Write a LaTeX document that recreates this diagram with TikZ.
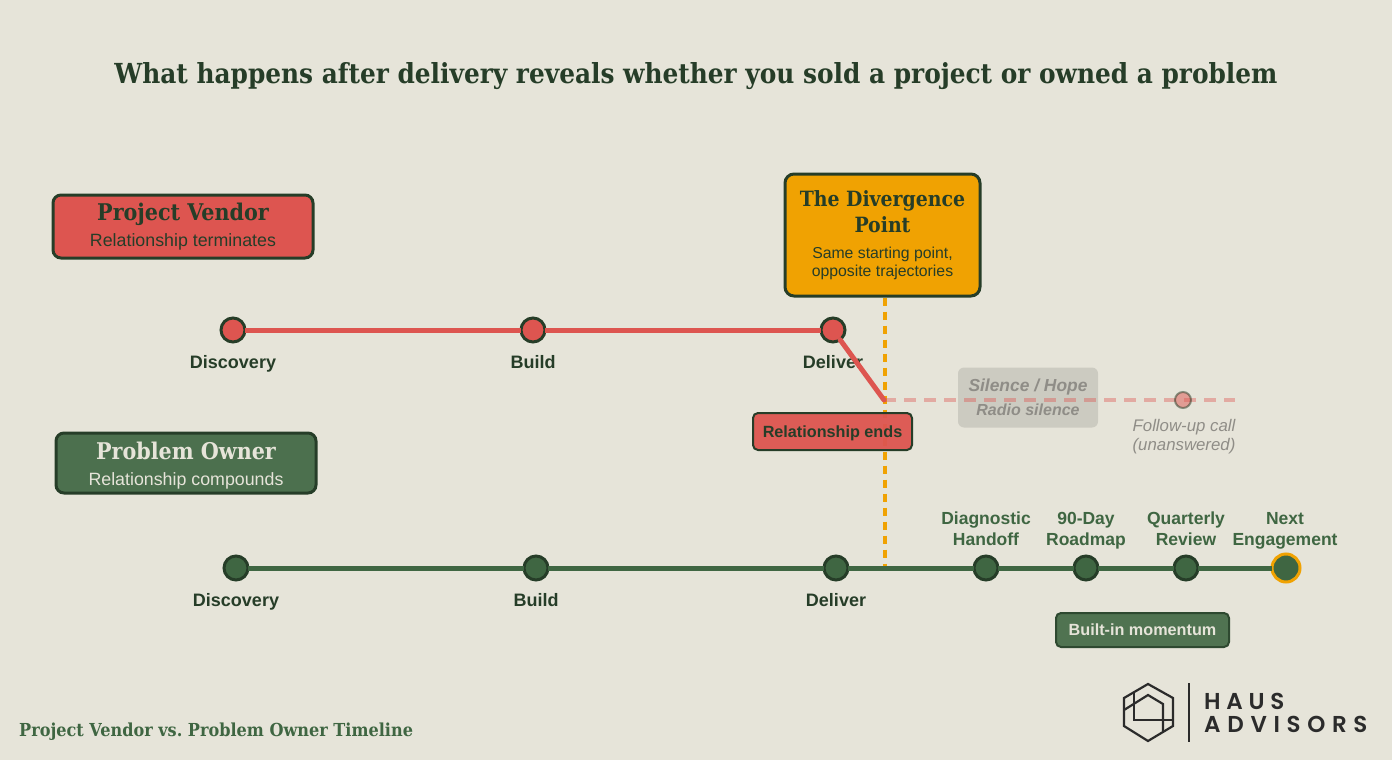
\documentclass[tikz,border=0pt]{standalone}
\usepackage{fontspec}
\setmainfont{Liberation Sans}
\newfontfamily\headfont{DejaVu Serif Condensed}
\newfontfamily\logofont{Poppins}[UprightFont=* SemiBold]
\frenchspacing
\definecolor{paper}{HTML}{E6E4D9}
\definecolor{ink}{HTML}{263D28}
\definecolor{vendorred}{HTML}{DD5550}
\definecolor{ownergreen}{HTML}{3F6642}
\definecolor{pointamber}{HTML}{F0A202}
\definecolor{logoink}{HTML}{2B2B2B}
\newcommand{\lanehead}{\headfont\bfseries\fontsize{23}{27}\selectfont}
\newcommand{\lanesub}{\fontsize{17.8}{22}\selectfont}
\newcommand{\pointhead}{\headfont\bfseries\fontsize{21}{26}\selectfont}
\newcommand{\pointsub}{\fontsize{15.8}{18}\selectfont}
\tikzset{
  lane/.style={rounded corners=8, draw=ink, line width=3, minimum width=260, align=center},
  vdot/.style={circle, draw=ink, line width=3, fill=vendorred, minimum size=24, inner sep=0, outer sep=0},
  odot/.style={circle, draw=ink, line width=3, fill=ownergreen, minimum size=24, inner sep=0, outer sep=0},
  vline/.style={vendorred, line width=5},
  oline/.style={ownergreen, line width=5},
  stage/.style={anchor=base, font=\bfseries\fontsize{18}{21}\selectfont, text=ink},
  later/.style={anchor=base, font=\bfseries\fontsize{17.5}{21}\selectfont, text=ownergreen, align=center},
  tag/.style={rounded corners=5, line width=2, text height=11, text depth=0, font=\bfseries\fontsize{16.2}{19}\selectfont}
}
\begin{document}
\begin{tikzpicture}[x=1pt,y=-1pt]
\fill[paper] (0,0) rectangle (1392,760);
\useasboundingbox (0,0) rectangle (1392,760);

% Title
\node[anchor=base, text=ink, font=\headfont\bfseries\fontsize{27.6}{34}\selectfont] (title) at (696,83)
  {What happens after delivery reveals whether you sold a project or owned a problem};

% Lane boxes
\node[lane, fill=vendorred, text=ink, minimum height=63] (vendorbox) at (183,226.5)
  {{\lanehead Project Vendor}\\[7pt]{\lanesub Relationship terminates}};
\node[lane, fill=ownergreen!92!paper, text=paper, minimum height=60] (ownerbox) at (186,463)
  {{\lanehead\rule{0pt}{23pt}\vphantom{j}Problem Owner}\\[7pt]{\lanesub Relationship compounds}};

% Divergence point and its dashed marker
\node[rounded corners=9, draw=ink, line width=3, fill=pointamber, text=ink, minimum width=195, minimum height=122, align=center] (divergence) at (882.5,235)
  {{\pointhead The Divergence}\\[5pt]{\pointhead Point}\\[14pt]{\pointsub Same starting point,}\\[2pt]{\pointsub opposite trajectories}};
\coordinate (divfoot) at (885,568);
\draw[pointamber, line width=3.5, dash pattern=on 8 off 6] (divergence.south -| divfoot) -- (divfoot);

% Vendor timeline
\node[vdot] (vdisc) at (233,330) {};
\node[vdot] (vbuild) at (533,330) {};
\node[vdot] (vdeliver) at (833,330) {};
\coordinate (vend) at (884,400);
\coordinate (vtail) at (1235,400);
\draw[vline] (vdisc) -- (vbuild);
\draw[vline] (vbuild) -- (vdeliver);
\node[stage] (vdisclabel) at (233,368) {Discovery};
\node[stage] (vbuildlabel) at (533,368) {Build};
\node[stage] (vdeliverlabel) at (833,368) {Deliver};
\draw[vline, line cap=round] (vdeliver) -- (vend);

% After delivery: silence
\node[rounded corners=6, fill=black!55!paper, fill opacity=0.2, text opacity=1, text=black!38!paper, minimum width=140, minimum height=60, align=center,
  font=\bfseries\itshape] (silence) at (1028,397.5) {{\fontsize{17.4}{21}\selectfont Silence / Hope}\\[8pt]{\fontsize{16}{20}\selectfont Radio silence}};
\draw[vendorred, opacity=0.4, line width=3.5, dash pattern=on 12 off 8] (vend) -- (vtail);
\node[circle, draw=ink, line width=2, fill=vendorred, opacity=0.5, minimum size=16, inner sep=0] (vfollow) at (1183,400) {};
\node[text=black!38!paper, align=center, font=\itshape\fontsize{16.8}{19}\selectfont] (vfollowlabel) at (1184,437) {Follow-up call\\(unanswered)};
\node[tag, draw=ink, fill=vendorred, fill opacity=0.95, text opacity=1, text=ink, minimum width=159, minimum height=37] (vendtag) at (832.5,431.5) {Relationship ends};

% Owner timeline
\node[odot] (odisc) at (236,568) {};
\node[odot] (obuild) at (536,568) {};
\node[odot] (odeliver) at (836,568) {};
\node[odot] (ohandoff) at (986,568) {};
\node[odot] (oroadmap) at (1086,568) {};
\node[odot] (oreview) at (1186,568) {};
\node[odot, draw=pointamber, minimum size=28] (onext) at (1286,568) {};
\draw[oline] (odisc) -- (obuild);
\draw[oline] (obuild) -- (odeliver);
\draw[oline] (odeliver) -- (ohandoff);
\draw[oline] (ohandoff) -- (oroadmap);
\draw[oline] (oroadmap) -- (oreview);
\draw[oline] (oreview) -- (onext);
\node[stage] (odisclabel) at (236,606) {Discovery};
\node[stage] (obuildlabel) at (536,606) {Build};
\node[stage] (odeliverlabel) at (836,606) {Deliver};
\node[later] (ohandofflabel) at (986,545) {Diagnostic\\Handoff};
\node[later] (oroadmaplabel) at (1086,545) {90-Day\\Roadmap};
\node[later] (oreviewlabel) at (1186,545) {Quarterly\\Review};
\node[later] (onextlabel) at (1285,545) {Next\\Engagement};
\node[tag, draw=ink!70!ownergreen, fill=ownergreen!90!paper, text=paper, minimum width=173, minimum height=34] (momentum) at (1142.5,630) {Built-in momentum};

% Footer
\node[anchor=base west, inner sep=0, text=ownergreen, font=\headfont\bfseries\fontsize{17.9}{22}\selectfont] (footer) at (19,736) {Project Vendor vs. Problem Owner Timeline};

% Logo
\draw[logoink, line width=2.2] (1148,684) -- (1173,698) -- (1173,726) -- (1148,741) -- (1124,726) -- (1124,698) -- cycle;
\draw[logoink, line width=2.2] (1124,710) -- (1148,695) -- (1163,704) -- (1163,731);
\draw[logoink, line width=2.2] (1134,692) -- (1134,720) -- (1173,720);
\draw[logoink, line width=1.2] (1189,683) -- (1189,742);
\node[anchor=base west, inner sep=0, text=logoink, font=\logofont\fontsize{23}{26}\selectfont] (logohaus) at (1204,709) {\addfontfeatures{LetterSpace=25}HAUS};
\node[anchor=base west, inner sep=0, text=logoink, font=\logofont\fontsize{23}{26}\selectfont] (logoadv) at (1204,732) {\addfontfeatures{LetterSpace=29}ADVISORS};
\end{tikzpicture}
\end{document}
